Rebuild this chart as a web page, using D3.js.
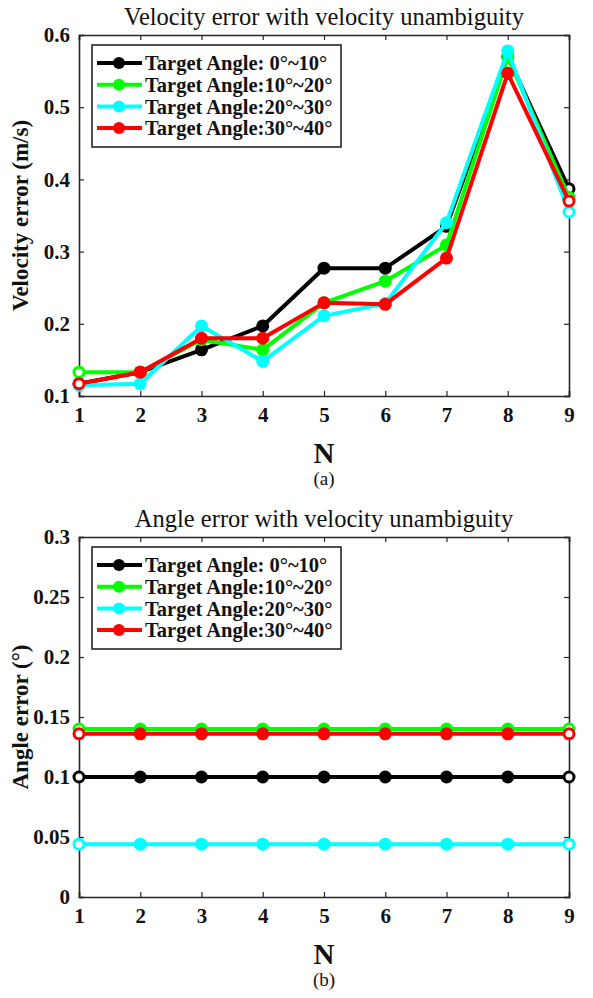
<!DOCTYPE html>
<html><head><meta charset="utf-8">
<script src="https://cdn.jsdelivr.net/npm/d3@7"></script>
<style>body{margin:0;background:#fff}svg{display:block}text{font-family:"Liberation Serif","Times New Roman",serif}</style>
</head><body>
<script>
const xValues = [1,2,3,4,5,6,7,8,9];
const seriesNames = ["Target Angle: 0°~10°","Target Angle:10°~20°","Target Angle:20°~30°","Target Angle:30°~40°"];
const seriesColors = ["#000000","#00ff00","#00ffff","#ff0000"];
// (a) velocity error
const velBlack = [0.117,0.133,0.164,0.197,0.277,0.277,0.335,0.570,0.387];
const velGreen = [0.133,0.133,0.178,0.164,0.229,0.259,0.309,0.570,0.375];
const velCyan  = [0.115,0.117,0.197,0.148,0.211,0.228,0.340,0.578,0.355];
const velRed   = [0.117,0.133,0.180,0.180,0.229,0.227,0.291,0.547,0.370];
const velTicks = [0.1,0.2,0.3,0.4,0.5,0.6];
// (b) angle error
const angBlack = [0.1,0.1,0.1,0.1,0.1,0.1,0.1,0.1,0.1];
const angGreen = [0.14,0.14,0.14,0.14,0.14,0.14,0.14,0.14,0.14];
const angCyan  = [0.044,0.044,0.044,0.044,0.044,0.044,0.044,0.044,0.044];
const angRed   = [0.136,0.136,0.136,0.136,0.136,0.136,0.136,0.136,0.136];
const angTicks = [0,0.05,0.1,0.15,0.2,0.25,0.3];

const W=593,H=998;
const svg=d3.select("body").append("svg").attr("width",W).attr("height",H);

function panel(cfg){
  const {top,bottom,left,right,yDomain,yTicks,yFmt,series,title,ylabel,sub}=cfg;
  const x=d3.scaleLinear().domain([1,9]).range([left,right]);
  const y=d3.scaleLinear().domain(yDomain).range([bottom,top]);
  const g=svg.append("g");
  const axc="#262626";
  const ax=g.append("g").attr("transform",`translate(0,${bottom})`)
    .call(d3.axisBottom(x).tickValues(xValues).tickSize(-5).tickPadding(11).tickFormat(d3.format("d")));
  const axT=g.append("g").attr("transform",`translate(0,${top})`)
    .call(d3.axisTop(x).tickValues(xValues).tickSize(-5).tickFormat(""));
  const ay=g.append("g").attr("transform",`translate(${left},0)`)
    .call(d3.axisLeft(y).tickValues(yTicks).tickSize(-5).tickPadding(9).tickFormat(yFmt));
  const ayR=g.append("g").attr("transform",`translate(${right},0)`)
    .call(d3.axisRight(y).tickValues(yTicks).tickSize(-5).tickFormat(""));
  [ax,axT,ay,ayR].forEach(a=>{
    a.select(".domain").attr("stroke",axc).attr("stroke-width",1.6);
    a.selectAll(".tick line").attr("stroke",axc).attr("stroke-width",1.2);
    a.selectAll("text").attr("fill","#111").attr("font-size",21).attr("font-weight","bold");
  });
  ax.selectAll("text").attr("dy","0.71em");
  const line=d3.line().x((d,i)=>x(xValues[i])).y(d=>y(d));
  series.forEach((s,k)=>{
    g.append("path").datum(s).attr("d",line).attr("fill","none")
      .attr("stroke",seriesColors[k]).attr("stroke-width",4).attr("stroke-linejoin","round");
    g.selectAll(null).data(s).enter().append("circle")
      .attr("cx",(d,i)=>x(xValues[i])).attr("cy",d=>y(d))
      .attr("r",(d,i)=>(i===0||i===xValues.length-1)?5:6.5)
      .attr("fill",(d,i)=>(i===0||i===xValues.length-1)?"#fff":seriesColors[k])
      .attr("stroke",seriesColors[k]).attr("stroke-width",(d,i)=>(i===0||i===xValues.length-1)?3:0);
  });
  // legend
  const lx=left+13, ly=top+10, lw=249, lh=102;
  g.append("rect").attr("x",lx).attr("y",ly).attr("width",lw).attr("height",lh)
    .attr("fill","#fff").attr("stroke",axc).attr("stroke-width",1.6);
  seriesNames.forEach((n,k)=>{
    const yy=ly+18+k*21.7;
    g.append("line").attr("x1",lx+5).attr("x2",lx+50).attr("y1",yy).attr("y2",yy)
      .attr("stroke",seriesColors[k]).attr("stroke-width",4);
    g.append("circle").attr("cx",lx+27).attr("cy",yy).attr("r",6).attr("fill",seriesColors[k]);
    g.append("text").attr("x",lx+53).attr("y",yy).attr("dy","0.35em").attr("font-size",20.5)
      .attr("font-weight","bold").attr("fill","#111").text(n);
  });
  const cx=(left+right)/2;
  g.append("text").attr("x",cx).attr("y",top-10).attr("text-anchor","middle")
    .attr("font-size",24.5).attr("fill","#111").text(title);
  g.append("text").attr("transform",`translate(20,${(top+bottom)/2}) rotate(-90)`)
    .attr("text-anchor","middle").attr("dy","0.35em").attr("font-size",23).attr("font-weight","bold")
    .attr("fill","#111").text(ylabel);
  g.append("text").attr("x",cx).attr("y",bottom+67).attr("text-anchor","middle")
    .attr("font-size",29).attr("font-weight","bold").attr("fill","#111").text("N");
  g.append("text").attr("x",cx).attr("y",bottom+89).attr("text-anchor","middle")
    .attr("font-size",19).attr("fill","#111").text(sub);
}

panel({top:35,bottom:396,left:79,right:569,yDomain:[0.1,0.6],yTicks:velTicks,yFmt:d3.format(".1f"),
  series:[velBlack,velGreen,velCyan,velRed],title:"Velocity error with velocity unambiguity",
  ylabel:"Velocity error (m/s)",sub:"(a)"});
panel({top:537,bottom:897,left:79,right:569,yDomain:[0,0.3],yTicks:angTicks,yFmt:d=>d===0?"0":String(d),
  series:[angBlack,angGreen,angCyan,angRed],title:"Angle error with velocity unambiguity",
  ylabel:"Angle error (°)",sub:"(b)"});
</script>
</body></html>
